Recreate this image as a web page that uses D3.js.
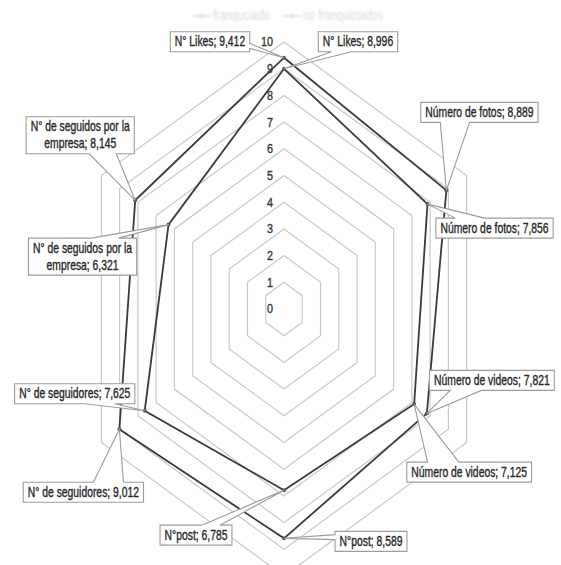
<!DOCTYPE html>
<html>
<head>
<meta charset="utf-8">
<script src="https://cdn.jsdelivr.net/npm/d3@7/dist/d3.min.js"></script>
<style>
  body { margin: 0; background: #fff; }
  svg { display: block; }
</style>
</head>
<body>
<svg id="chart" width="561" height="565"></svg>
<script>
// Radar chart: social-media indicators, franchised vs. non-franchised companies
const categories = ["N° Likes", "Número de fotos", "Número de videos", "N°post", "N° de seguidores", "N° de seguidos por la empresa"];
const seriesNames = ["franquciado", "no franquiciados"];
const franquiciado = [9.412, 8.889, 7.821, 8.589, 9.012, 8.145];
const noFranquiciados = [8.996, 7.856, 7.125, 6.785, 7.625, 6.321];
const tickValues = [0, 1, 2, 3, 4, 5, 6, 7, 8, 9, 10];

// Callout box centre offsets (px) from each plotted point, per series
const calloutOffsets = [
  [[-74, -16], [33, -78], [65, -33], [87, 3], [-36, 63], [-55, -65]],
  [[74, -27], [67, 24], [55, 68], [-88, 45], [-70, -17], [-86, 32]]
];

const svg = d3.select("#chart");
const cx = 284, cy = 309;
const squeezeX = 0.79;          // horizontal compression of the plot area
const textScale = 0.74;         // condensed lettering
const font = "'Liberation Sans', Arial, sans-serif";

const r = d3.scaleLinear().domain([0, 10]).range([0, 267]);
const angle = d3.scalePoint().domain(d3.range(categories.length)).range([0, 2 * Math.PI * (categories.length - 1) / categories.length]);

function pt(i, v) {
  const a = angle(i), rr = r(v);
  return [cx + squeezeX * rr * Math.sin(a), cy - rr * Math.cos(a)];
}

const line = d3.line().curve(d3.curveLinearClosed);

// blur for the faded legend
const defs = svg.append("defs");
defs.append("filter").attr("id", "soft").attr("x", "-10%").attr("y", "-50%").attr("width", "120%").attr("height", "200%")
  .append("feGaussianBlur").attr("stdDeviation", 0.8);

// grid rings
const grid = svg.append("g").attr("class", "grid");
tickValues.filter(t => t > 0).forEach(t => {
  grid.append("path")
    .attr("d", line(categories.map((c, i) => pt(i, t))))
    .attr("fill", "none")
    .attr("stroke", "#c9c9c9")
    .attr("stroke-width", 1.2);
});

// radial tick labels along the top axis
svg.append("g").selectAll("text").data(tickValues).join("text")
  .attr("transform", d => `translate(${cx - 11},${cy - r(d)}) scale(${0.8},1)`)
  .attr("text-anchor", "end")
  .attr("dominant-baseline", "central")
  .attr("font-family", font)
  .attr("font-size", 13.5)
  .attr("fill", "#333")
  .attr("stroke", "#333")
  .attr("stroke-width", 0.35)
  .text(d => d);

// series polygons
const series = [franquiciado, noFranquiciados];
const seriesG = svg.append("g");
series.forEach((vals, s) => {
  seriesG.append("path")
    .attr("d", line(vals.map((v, i) => pt(i, v))))
    .attr("fill", "none")
    .attr("stroke", "#3a3a3a")
    .attr("stroke-width", 1.8)
    .attr("stroke-linejoin", "miter");
  seriesG.selectAll(null).data(vals).join("circle")
    .attr("cx", (v, i) => pt(i, v)[0])
    .attr("cy", (v, i) => pt(i, v)[1])
    .attr("r", 2)
    .attr("fill", "#5a5a5a");
});

// value callouts
const fmt = v => d3.format(".3f")(v).replace(".", ",");
const maxLine = 120;
const calloutG = svg.append("g");
const measure = svg.append("text").attr("font-family", font).attr("font-size", 14).attr("visibility", "hidden");
function textW(s) { measure.text(s); return measure.node().getComputedTextLength() * textScale; }
function wrap(s) {
  const words = s.split(" ");
  const lines = [];
  let cur = "";
  words.forEach(w => {
    const t = cur ? cur + " " + w : w;
    if (cur && textW(t) > maxLine) { lines.push(cur); cur = w; } else cur = t;
  });
  lines.push(cur);
  return lines;
}

function calloutPath(x0, y0, w, h, tx, ty) {
  const hc = x0 + w / 2, vc = y0 + h / 2;
  const dxPos = tx - hc, dyPos = ty - vc;
  const x1 = x0 + w * (dxPos > 0 ? 7 : 2) / 12, x2 = x0 + w * (dxPos > 0 ? 10 : 5) / 12;
  const y1 = y0 + h * (dyPos > 0 ? 7 : 2) / 12, y2 = y0 + h * (dyPos > 0 ? 10 : 5) / 12;
  const side = Math.abs(dxPos) / w > Math.abs(dyPos) / h;
  const R = x0 + w, B = y0 + h;
  const p = d3.path();
  p.moveTo(x0, y0);
  if (!side && dyPos < 0) { p.lineTo(x1, y0); p.lineTo(tx, ty); p.lineTo(x2, y0); }
  p.lineTo(R, y0);
  if (side && dxPos > 0) { p.lineTo(R, y1); p.lineTo(tx, ty); p.lineTo(R, y2); }
  p.lineTo(R, B);
  if (!side && dyPos > 0) { p.lineTo(x2, B); p.lineTo(tx, ty); p.lineTo(x1, B); }
  p.lineTo(x0, B);
  if (side && dxPos < 0) { p.lineTo(x0, y2); p.lineTo(tx, ty); p.lineTo(x0, y1); }
  p.closePath();
  return p.toString();
}

series.forEach((vals, s) => {
  vals.forEach((v, i) => {
    const [tx, ty] = pt(i, v);
    const [ox, oy] = calloutOffsets[s][i];
    const lines = wrap(`${categories[i]}; ${fmt(v)}`);
    const lh = 17;
    const w = d3.max(lines, textW) + 9;
    const h = lines.length * lh + 3;
    const bx = tx + ox - w / 2, by = ty + oy - h / 2;
    const g = calloutG.append("g");
    g.append("path")
      .attr("d", calloutPath(bx, by, w, h, tx, ty))
      .attr("fill", "#fff")
      .attr("stroke", "#9c9c9c")
      .attr("stroke-width", 1.1);
    lines.forEach((ln, k) => {
      g.append("text")
        .attr("transform", `translate(${bx + w / 2},${by + 1.5 + lh * (k + 0.5)}) scale(${textScale},1)`)
        .attr("text-anchor", "middle")
        .attr("dominant-baseline", "central")
        .attr("font-family", font)
        .attr("font-size", 14)
        .attr("fill", "#262626")
        .attr("stroke", "#262626")
        .attr("stroke-width", 0.35)
        .text(ln);
    });
  });
});
measure.remove();

// legend (faded)
const legend = svg.append("g").attr("filter", "url(#soft)");
const legendX = [193, 283];
seriesNames.forEach((name, s) => {
  const lx = legendX[s], ly = 16;
  legend.append("line").attr("x1", lx).attr("x2", lx + 18).attr("y1", ly).attr("y2", ly)
    .attr("stroke", "#d8d8d8").attr("stroke-width", 1.6);
  legend.append("circle").attr("cx", lx + 9).attr("cy", ly).attr("r", 1.8).attr("fill", "#d8d8d8");
  legend.append("text")
    .attr("transform", `translate(${lx + 20},${ly}) scale(0.78,1)`)
    .attr("dominant-baseline", "central")
    .attr("font-family", font)
    .attr("font-size", 14)
    .attr("fill", "#d8d8d8")
    .text(name);
});
</script>
</body>
</html>
